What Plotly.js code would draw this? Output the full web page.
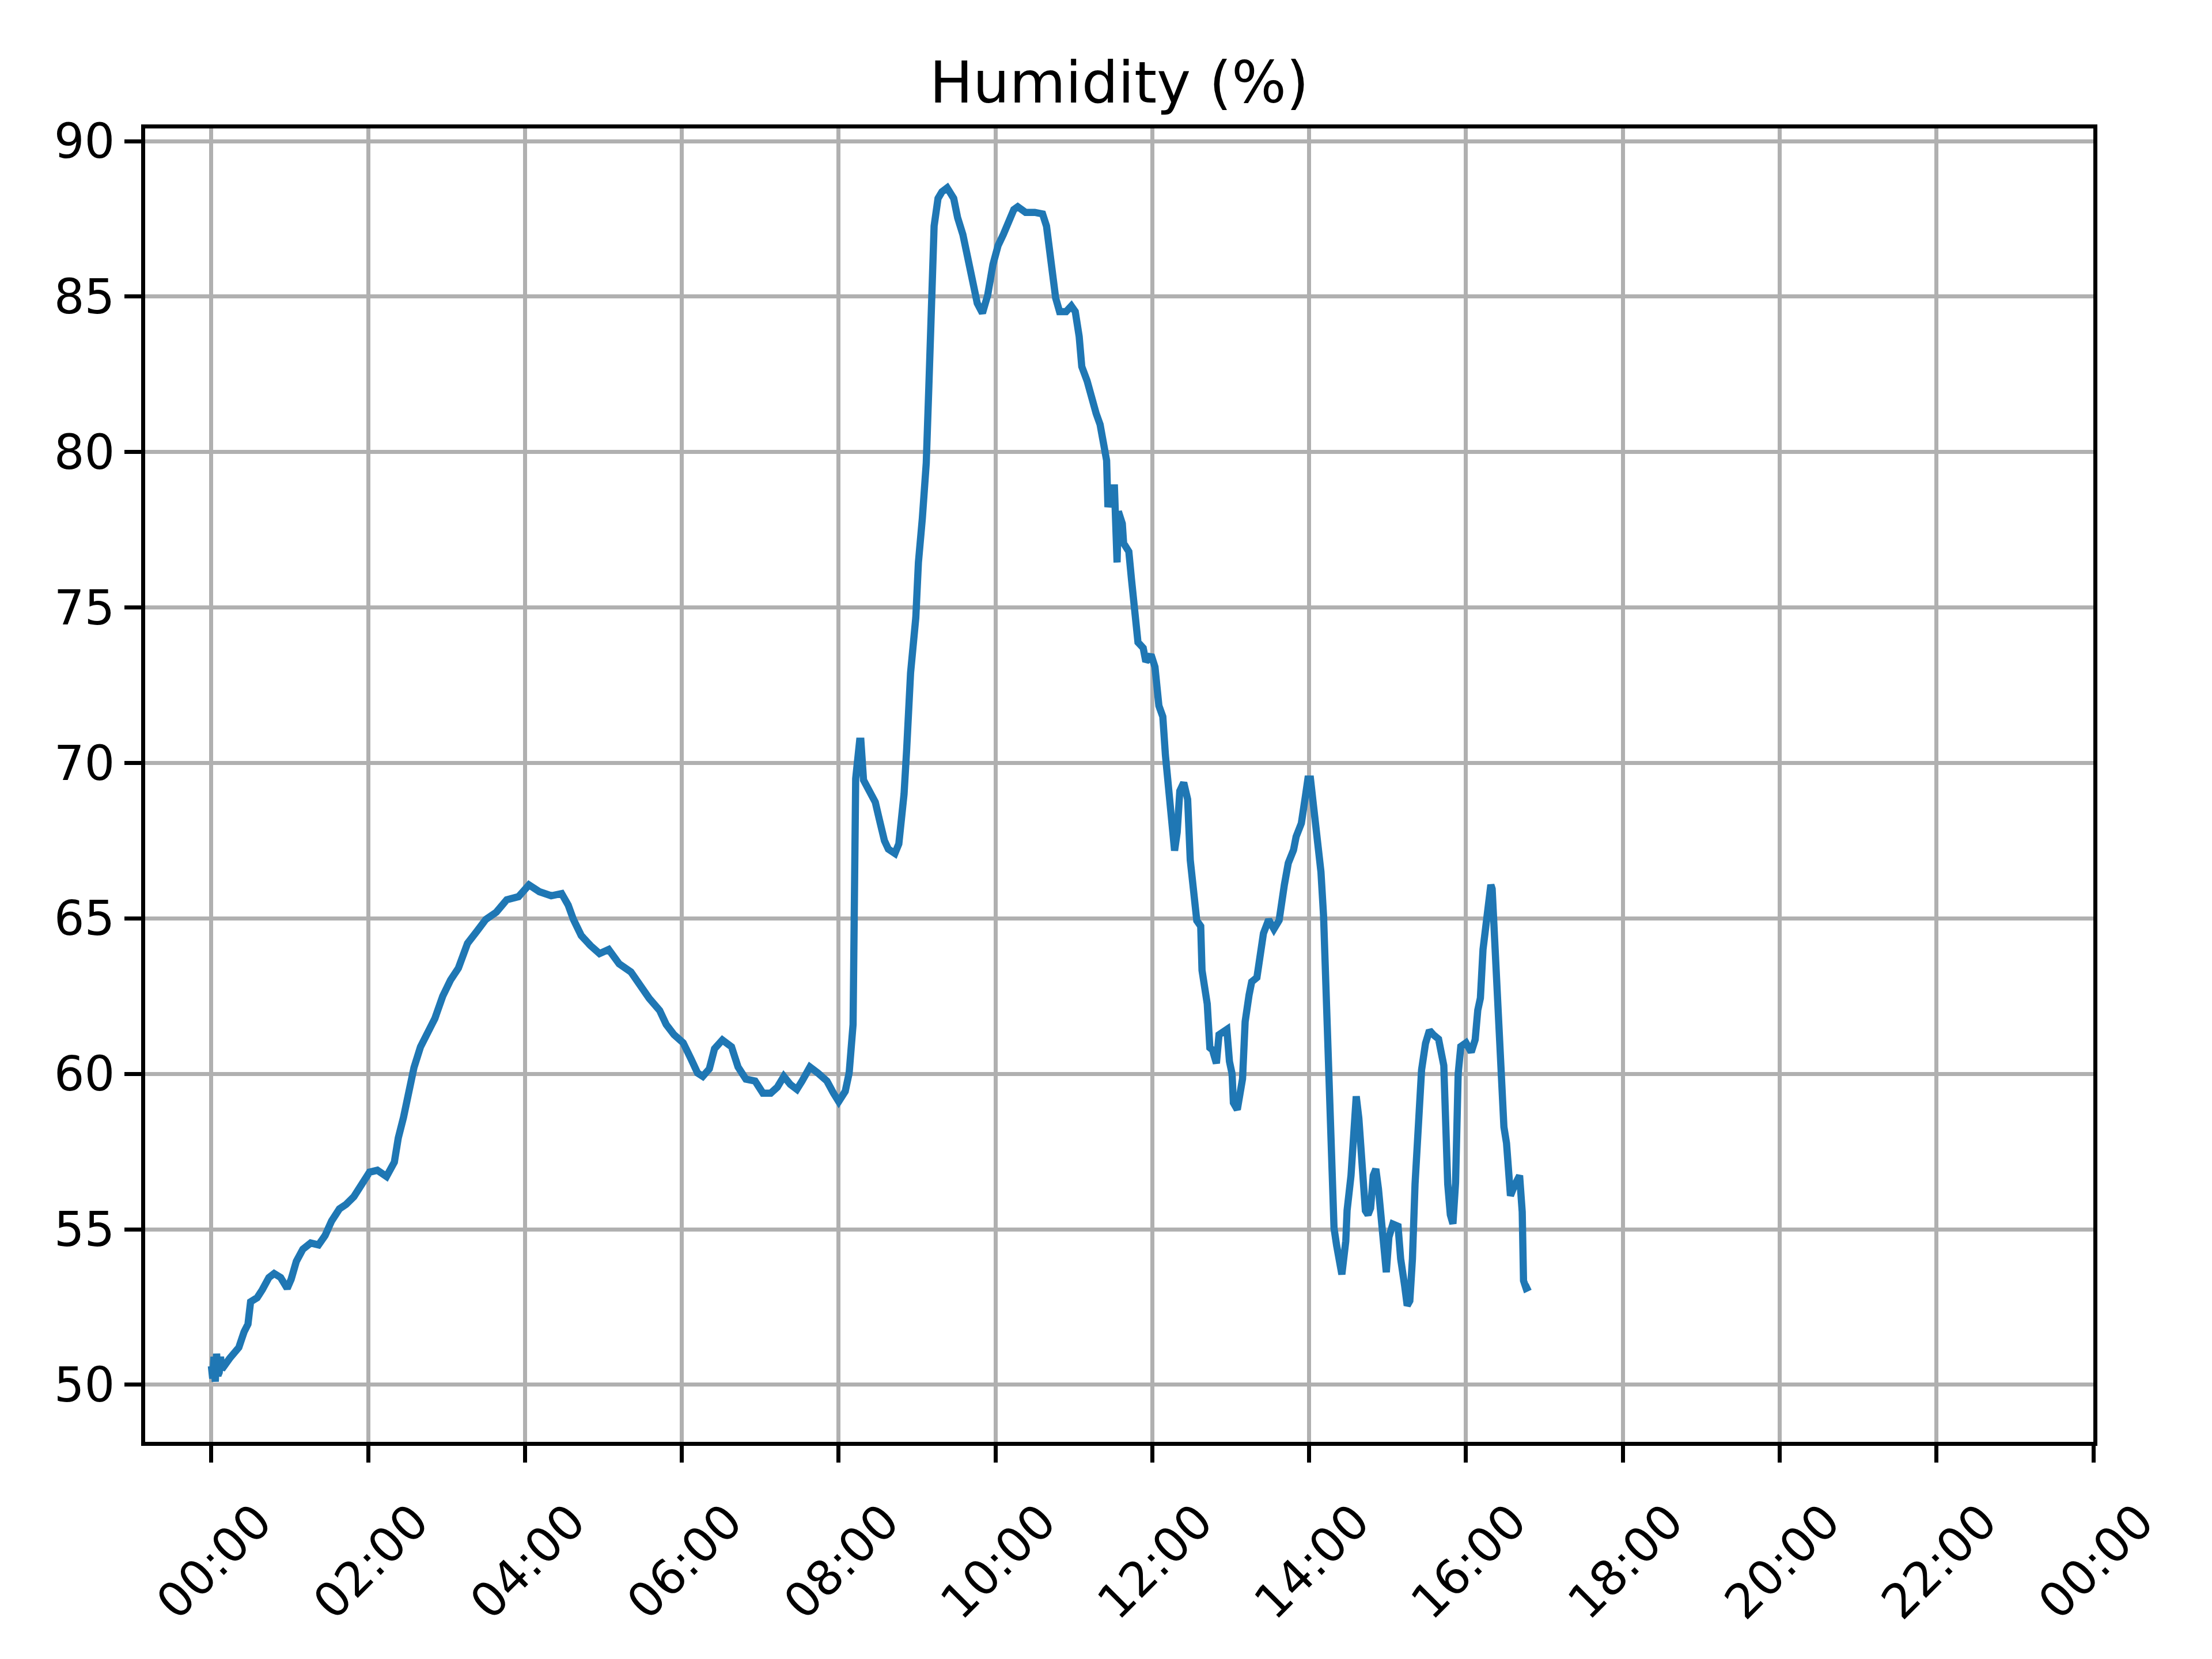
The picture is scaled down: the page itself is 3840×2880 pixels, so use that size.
<!DOCTYPE html>
<html>
<head>
<meta charset="utf-8">
<script src="https://cdn.plot.ly/plotly-3.0.1.min.js"></script>
<style>
  html, body { margin: 0; padding: 0; background: #ffffff; }
  #chart { width: 3840px; height: 2880px; }
</style>
</head>
<body>
<div id="chart"></div>
<script>
// Time of day (HH:MM) of each reading
const times = [
  "00:00","00:01","00:02","00:03","00:04","00:05","00:06","00:07","00:08","00:14",
  "00:21","00:25","00:28","00:30","00:35","00:39","00:44","00:48","00:53","00:58",
  "01:01","01:05","01:10","01:16","01:22","01:27","01:32","01:38","01:43","01:49",
  "01:54","02:01","02:07","02:14","02:20","02:23","02:27","02:31","02:35","02:40",
  "02:46","02:51","02:57","03:03","03:09","03:16","03:23","03:30","03:38","03:46",
  "03:55","04:03","04:11","04:20","04:28","04:33","04:37","04:43","04:50","04:57",
  "05:04","05:12","05:21","05:28","05:35","05:43","05:48","05:54","06:01","06:07",
  "06:12","06:16","06:21","06:25","06:31","06:38","06:43","06:49","06:56","07:02",
  "07:08","07:13","07:18","07:23","07:28","07:32","07:38","07:44","07:51","07:56",
  "08:00","08:05","08:08","08:11","08:12","08:13","08:16","08:17","08:19","08:24",
  "08:28","08:31","08:35","08:38","08:43","08:46","08:50","08:52","08:55","08:59",
  "09:01","09:04","09:07","09:09","09:11","09:13","09:16","09:19","09:23","09:28",
  "09:31","09:35","09:39","09:42","09:46","09:50","09:54","09:58","10:02","10:06",
  "10:10","10:14","10:17","10:23","10:30","10:36","10:39","10:41","10:44","10:46",
  "10:49","10:54","10:58","11:01","11:04","11:06","11:10","11:13","11:17","11:20",
  "11:23","11:25","11:26","11:28","11:29","11:31","11:32","11:33","11:34","11:37",
  "11:38","11:42","11:44","11:47","11:49","11:53","11:55","11:59","12:02","12:05",
  "12:08","12:10","12:13","12:16","12:17","12:19","12:21","12:24","12:27","12:29",
  "12:31","12:34","12:37","12:38","12:42","12:44","12:46","12:49","12:51","12:53",
  "12:57","12:59","13:01","13:02","13:05","13:09","13:11","13:14","13:16","13:20",
  "13:23","13:25","13:29","13:33","13:37","13:39","13:41","13:44","13:48","13:50",
  "13:54","13:57","13:59","14:01","14:03","14:05","14:09","14:11","14:13","14:15",
  "14:17","14:19","14:21","14:23","14:25","14:28","14:29","14:32","14:34","14:36",
  "14:38","14:40","14:43","14:45","14:47","14:49","14:51","14:53","14:55","14:58",
  "14:59","15:01","15:04","15:08","15:10","15:13","15:15","15:17","15:19","15:21",
  "15:24","15:26","15:29","15:32","15:35","15:39","15:43","15:44","15:46","15:48",
  "15:50","15:52","15:54","15:56","16:00","16:04","16:07","16:09","16:11","16:13",
  "16:16","16:17","16:19","16:20","16:22","16:24","16:26","16:29","16:31","16:34",
  "16:37","16:41","16:43","16:44","16:46","16:49"
];

// Relative humidity (%) at each reading
const humidity = [
  50.6,50.2,50.9,50.1,51.0,50.3,50.4,50.9,50.5,50.85,
  51.2,51.7,51.95,52.67,52.8,53.06,53.45,53.58,53.45,53.1,
  53.39,53.97,54.36,54.56,54.5,54.8,55.27,55.66,55.8,56.05,
  56.4,56.84,56.9,56.7,57.16,57.94,58.6,59.4,60.2,60.87,
  61.4,61.78,62.5,63.02,63.4,64.2,64.58,64.97,65.2,65.6,
  65.7,66.08,65.86,65.73,65.8,65.43,64.97,64.45,64.13,63.87,
  64.0,63.54,63.28,62.83,62.43,62.04,61.59,61.26,61.0,60.48,
  60.03,59.92,60.16,60.81,61.09,60.87,60.22,59.83,59.77,59.38,
  59.38,59.57,59.92,59.66,59.5,59.77,60.22,60.03,59.77,59.38,
  59.11,59.44,60.03,61.59,66.9,69.5,70.7,70.7,69.45,69.1,
  68.74,68.2,67.5,67.23,67.09,67.4,69.0,70.43,72.9,74.68,
  76.45,77.87,79.65,82.13,84.96,87.27,88.16,88.37,88.5,88.16,
  87.54,87.0,86.2,85.5,84.79,84.47,85.05,86.03,86.65,87.0,
  87.36,87.8,87.89,87.71,87.71,87.66,87.27,86.56,85.67,84.96,
  84.52,84.52,84.7,84.52,83.72,82.75,82.3,81.77,81.24,80.89,
  80.18,79.73,78.23,78.58,78.85,78.85,77.25,76.45,78.09,77.7,
  77.07,76.8,75.92,74.86,73.88,73.7,73.26,73.48,73.09,71.84,
  71.49,70.25,68.83,67.41,67.18,67.77,69.1,69.37,68.83,66.88,
  65.82,64.93,64.75,63.33,62.25,60.84,60.77,60.34,61.26,61.33,
  61.43,60.4,60.0,59.07,58.85,59.84,61.68,62.54,62.96,63.1,
  64.24,64.52,64.96,64.66,64.94,65.65,66.08,66.78,67.2,67.63,
  68.06,68.9,69.48,69.48,68.77,67.78,66.5,65.08,62.82,60.27,
  57.86,55.04,54.48,53.9,53.55,54.62,55.61,56.73,58.57,59.28,
  58.57,57.16,55.6,55.47,55.68,56.73,56.94,56.3,55.17,54.0,
  53.62,54.75,55.17,55.1,54.05,53.2,52.55,52.7,54.05,56.46,
  58.85,60.13,60.98,61.4,61.26,61.12,60.27,58.57,56.46,55.47,
  55.18,56.5,60.0,60.88,61.0,60.7,61.1,62.05,62.44,64.0,
  65.04,65.43,66.08,65.95,64.26,62.57,60.62,58.29,57.77,56.08,
  56.4,56.73,55.56,53.35,53.1,53.16
];

const day = "2024-01-01";
const chartTitle = "Humidity (%)";

const xs = times.map(t => day + " " + t + ":00");

const FONT = "DejaVu Sans, Liberation Sans, sans-serif";

const trace = {
  type: "scatter",
  mode: "lines",
  x: xs,
  y: humidity,
  line: { color: "#1f77b4", width: 12.5, shape: "linear" },
  hoverinfo: "skip"
};

const layout = {
  width: 3840,
  height: 2880,
  paper_bgcolor: "#ffffff",
  plot_bgcolor: "#ffffff",
  showlegend: false,
  margin: { l: 252, r: 206, t: 223, b: 377, pad: 0 },
  font: { family: FONT, color: "#000000", size: 83 },
  title: {
    text: chartTitle,
    font: { family: FONT, size: 100, color: "#000000" },
    x: 0.5,
    xanchor: "center",
    xref: "paper",
    yref: "container",
    y: 1 - 143 / 2880,
    yanchor: "middle"
  },
  xaxis: {
    type: "date",
    range: ["2023-12-31 23:09:20", "2024-01-02 00:00:00"],
    tick0: "2024-01-01 00:00:00",
    dtick: 7200000,
    tickformat: "%H:%M",
    tickangle: -45,
    ticklabelshift: 80,
    ticklabelstandoff: 20,
    ticks: "outside",
    ticklen: 29,
    tickwidth: 7,
    tickcolor: "#000000",
    tickfont: { family: FONT, size: 83, color: "#000000" },
    showgrid: true,
    gridcolor: "#b0b0b0",
    gridwidth: 7,
    showline: true,
    linecolor: "#000000",
    linewidth: 7,
    mirror: true,
    zeroline: false
  },
  yaxis: {
    range: [48.165, 90.41],
    tickvals: [50, 55, 60, 65, 70, 75, 80, 85, 90],
    ticks: "outside",
    ticklen: 29,
    tickwidth: 7,
    tickcolor: "#000000",
    tickfont: { family: FONT, size: 83, color: "#000000" },
    showgrid: true,
    gridcolor: "#b0b0b0",
    gridwidth: 7,
    showline: true,
    linecolor: "#000000",
    linewidth: 7,
    mirror: true,
    zeroline: false
  }
};

Plotly.newPlot("chart", [trace], layout, { staticPlot: true, displayModeBar: false });
</script>
</body>
</html>
